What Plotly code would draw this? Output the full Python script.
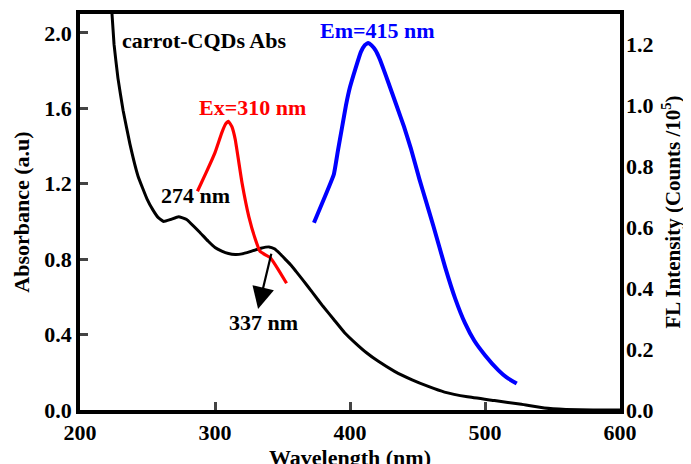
import plotly.graph_objects as go

# Absorbance (left axis)
abs_wl = [221, 223.7, 225.2, 228.1, 231.9, 237.0, 243.0, 249.6, 254.1, 258, 262, 267, 273, 279,
          289, 295, 300, 305, 310, 315, 320, 326, 334, 340, 344, 348, 352, 356, 360, 365, 372, 380, 388, 396,
          404, 412, 421, 433, 446, 458, 470, 487, 507, 527, 544, 560, 580, 600]
abs_val = [2.25, 2.10, 1.94, 1.76, 1.59, 1.41, 1.24, 1.12, 1.06, 1.02, 1.00, 1.01, 1.025, 1.01,
           0.94, 0.895, 0.862, 0.843, 0.83, 0.825, 0.828, 0.84, 0.858, 0.865, 0.855, 0.83, 0.80, 0.77, 0.735,
           0.69, 0.625, 0.55, 0.48, 0.41,
           0.355, 0.305, 0.258, 0.205, 0.16, 0.125, 0.095, 0.07, 0.05, 0.03, 0.01, 0.003, 0.0, 0.0]

# Excitation (right axis)
ex_wl = [287, 293.5, 300, 305, 308, 310, 312.5, 315, 320, 325, 330, 333.3, 337, 341, 347, 353]
ex_val = [0.718, 0.78, 0.845, 0.91, 0.94, 0.948, 0.93, 0.888, 0.746, 0.636, 0.559, 0.521, 0.51, 0.50, 0.46, 0.416]

# Emission (right axis)
em_wl = [373.3, 388, 391, 394, 397, 400, 404, 408, 411, 413.5, 416, 419, 422, 428, 434.6, 440, 445,
         451.4, 456, 461.7, 470.4, 478, 485.2, 492, 500, 510, 516, 523.5]
em_val = [0.615, 0.773, 0.85, 0.925, 1.00, 1.06, 1.12, 1.175, 1.198, 1.205, 1.197, 1.18, 1.152, 1.08,
          0.998, 0.93, 0.86, 0.758, 0.69, 0.605, 0.47, 0.365, 0.285, 0.228, 0.18, 0.13, 0.107, 0.087]

x_ticks = [200, 300, 400, 500, 600]
y_left_ticks = [0.0, 0.4, 0.8, 1.2, 1.6, 2.0]
y_right_ticks = [0.0, 0.2, 0.4, 0.6, 0.8, 1.0, 1.2]

FONT = "Liberation Serif"
FS = 22

fig = go.Figure()
fig.add_trace(go.Scatter(x=abs_wl, y=abs_val, mode="lines",
                         line=dict(color="black", width=3, shape="spline", smoothing=0.3),
                         showlegend=False))
fig.add_trace(go.Scatter(x=ex_wl, y=ex_val, mode="lines",
                         line=dict(color="#ff0000", width=3.2, shape="spline", smoothing=0.3),
                         yaxis="y2", showlegend=False))
fig.add_trace(go.Scatter(x=em_wl, y=em_val, mode="lines",
                         line=dict(color="#0000ff", width=4, shape="spline", smoothing=0.3),
                         yaxis="y2", showlegend=False))

axfont = dict(family=FONT, size=FS, color="black", weight="bold")

# page body has an 8px margin, so shift the figure margins to compensate
fig.update_layout(
    width=691, height=464,
    margin=dict(l=72, r=79, t=6, b=62),
    paper_bgcolor="white", plot_bgcolor="white",
    font=axfont,
    xaxis=dict(range=[200, 600], tickvals=x_ticks, ticks="inside", ticklen=8, tickwidth=3,
               showline=True, linewidth=3.5, linecolor="black", mirror=True, automargin=False,
               showgrid=False, zeroline=False, tickfont=axfont,
               title=dict(text="Wavelength (nm)", font=axfont, standoff=4)),
    yaxis=dict(range=[0, 2.1], tickvals=y_left_ticks, tickformat=".1f", ticks="inside", ticklen=8, tickwidth=3,
               showline=True, linewidth=3.5, linecolor="black", mirror=True, automargin=False,
               showgrid=False, zeroline=False, tickfont=axfont,
               title=dict(text="Absorbance (a.u)", font=axfont, standoff=10)),
    yaxis2=dict(range=[0, 1.3], tickvals=y_right_ticks, tickformat=".1f", overlaying="y", side="right",
                ticks="", showline=False, showgrid=False, zeroline=False, tickfont=axfont, automargin=False,
                ticklabelstandoff=5,
                title=dict(text="FL Intensity (Counts /10<sup>5</sup>)",
                           font=dict(family=FONT, size=21, color="black", weight="bold"), standoff=12)),
)

fig.add_annotation(x=229.6, y=1.96, xref="x", yref="y", text="carrot-CQDs Abs", showarrow=False,
                   xanchor="left", font=dict(family=FONT, size=FS, color="black", weight="bold"))
fig.add_annotation(x=328, y=1.605, xref="x", yref="y", text="Ex=310 nm", showarrow=False,
                   font=dict(family=FONT, size=FS, color="#ff0000", weight="bold"))
fig.add_annotation(x=420.4, y=2.01, xref="x", yref="y", text="Em=415 nm", showarrow=False,
                   font=dict(family=FONT, size=FS, color="#0000ff", weight="bold"))
fig.add_annotation(x=285.9, y=1.139, xref="x", yref="y", text="274 nm", showarrow=False,
                   font=dict(family=FONT, size=FS, color="black", weight="bold"))
fig.add_annotation(x=335.9, y=0.466, xref="x", yref="y", text="337 nm", showarrow=False,
                   font=dict(family=FONT, size=FS, color="black", weight="bold"))
fig.add_annotation(x=331.9, y=0.535, ax=342, ay=0.837, xref="x", yref="y", axref="x", ayref="y",
                   text="", showarrow=True, arrowhead=2, arrowsize=2, arrowwidth=2.2, arrowcolor="black")

fig.write_html("out.html")
